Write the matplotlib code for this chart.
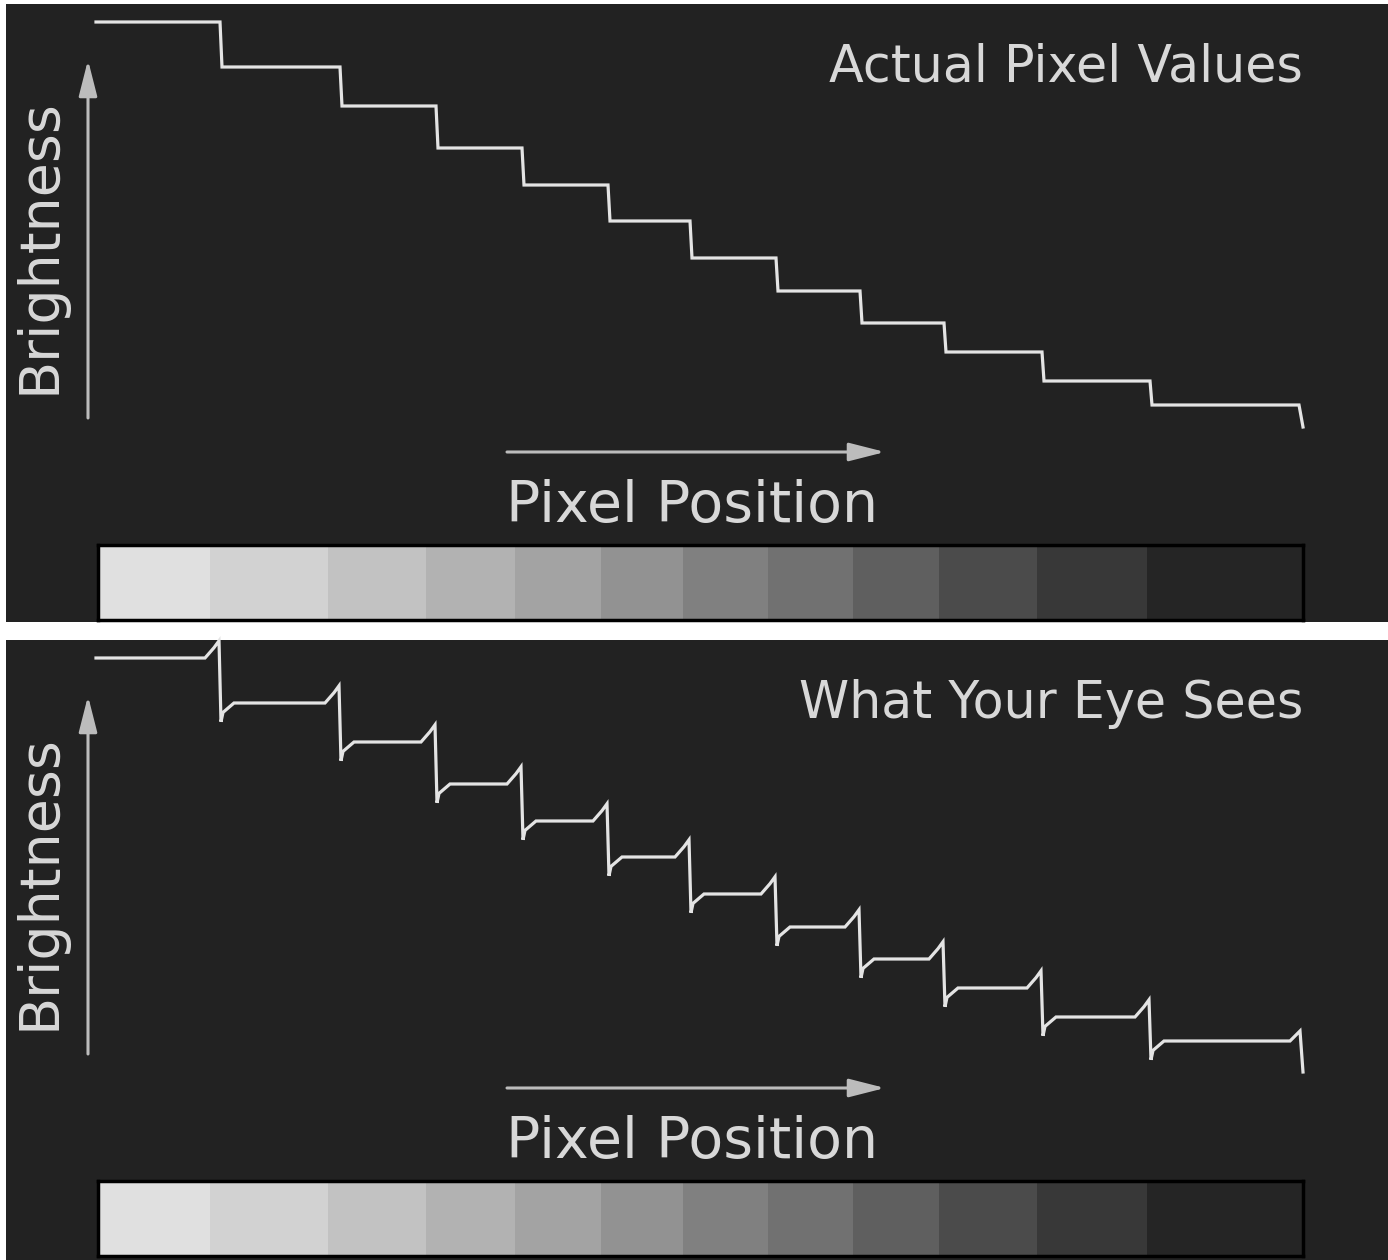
import matplotlib
matplotlib.use("Agg")
import matplotlib.pyplot as plt

W, H = 1388, 1260

# step edges along the pixel row (pixel position units) and brightness of each band
step_edges = [124, 244, 340, 426, 512, 594, 680, 764, 848, 946, 1054]
row_end = 1207
levels = [102, 90.75, 81, 70.5, 61.25, 52.25, 43, 34.75, 26.75, 19.5, 12.25, 6.25]
end_level = 0.75

# perceived (Mach band) overshoot / undershoot at each edge
mach_over = 4.3
mach_under = 4.7
mach_end_rise = 2.5
mach_end_level = -1.5

# gray swatches under each panel
band_edges = [0, 112, 230, 328, 417, 503, 585, 670, 755, 841, 939, 1049, 1205]
band_grays = [0xe0, 0xd2, 0xc2, 0xb2, 0xa3, 0x92, 0x80, 0x71, 0x5f, 0x4b, 0x38, 0x25]

titles = ["Actual Pixel Values", "What Your Eye Sees"]

BG = "#222222"
LINE = "#e4e4e4"
TXT = "#d8d8d8"
ARROW = "#bcbcbc"


def box(x0, y0, x1, y1):
    # pixel box (top-left origin) -> figure fraction rect
    return [x0 / W, 1 - y1 / H, (x1 - x0) / W, (y1 - y0) / H]


def actual_path():
    xs, ys = [0], [levels[0]]
    for i, e in enumerate(step_edges):
        xs += [e, e + 2]
        ys += [levels[i], levels[i + 1]]
    xs += [row_end - 4, row_end]
    ys += [levels[-1], end_level]
    return xs, ys


def perceived_path():
    xs, ys = [0], [levels[0]]
    for i, e in enumerate(step_edges):
        xs += [e - 15, e - 6, e - 1, e + 1, e + 3, e + 14]
        ys += [levels[i], levels[i] + mach_over * 0.6, levels[i] + mach_over,
               levels[i + 1] - mach_under, levels[i + 1] - mach_under * 0.5, levels[i + 1]]
    xs += [row_end - 13, row_end - 3, row_end]
    ys += [levels[-1], levels[-1] + mach_end_rise, mach_end_level]
    return xs, ys


fig = plt.figure(figsize=(W / 100, H / 100), dpi=100, facecolor="white")

panels = [(4, 622), (640, 1260)]
for k, (top, bot) in enumerate(panels):
    oy = 0 if k == 0 else 636

    bg = fig.add_axes(box(6, top, W, bot))
    bg.set_facecolor(BG)
    bg.set_xticks([])
    bg.set_yticks([])
    for s in bg.spines.values():
        s.set_visible(False)

    # staircase
    cv = fig.add_axes(box(96, 30 + oy, 1303, 430 + oy))
    cv.patch.set_visible(False)
    cv.set_axis_off()
    cv.set_xlim(0, row_end)
    cv.set_ylim(0, 100)
    xs, ys = actual_path() if k == 0 else perceived_path()
    ln, = cv.plot(xs, ys, color=LINE, lw=2.3, solid_joinstyle="miter", clip_on=False)
    ln.set_clip_path(bg.patch)

    # gray strip
    st = fig.add_axes(box(98, 545 + oy, 1303, 620 + oy))
    for i, g in enumerate(band_grays):
        c = "#%02x%02x%02x" % (g, g, g)
        st.axvspan(band_edges[i], band_edges[i + 1], color=c, lw=0)
    st.set_xlim(band_edges[0], band_edges[-1])
    st.set_ylim(0, 1)
    st.set_xticks([])
    st.set_yticks([])
    for s in st.spines.values():
        s.set_color("black")
        s.set_linewidth(2.5)

    # axis arrows
    arrow = dict(arrowstyle="-|>,head_length=1.1,head_width=0.28", color=ARROW,
                 lw=2.2, shrinkA=0, shrinkB=0, mutation_scale=20)
    bg.annotate("", xy=(88, H - (60 + oy)), xytext=(88, H - (418 + oy)),
                xycoords="figure pixels", textcoords="figure pixels", arrowprops=arrow)
    bg.annotate("", xy=(885, H - (452 + oy)), xytext=(507, H - (452 + oy)),
                xycoords="figure pixels", textcoords="figure pixels", arrowprops=arrow)

    fig.text(40 / W, 1 - (246 + oy) / H, "Brightness", rotation=90, color=TXT,
             fontsize=40, ha="center", va="center")
    fig.text(506 / W, 1 - (522 + oy) / H, "Pixel Position", color=TXT,
             fontsize=41, ha="left", va="baseline")
    fig.text(1303 / W, 1 - (82 + oy) / H, titles[k], color=TXT,
             fontsize=36.5, ha="right", va="baseline")

fig.savefig("out.png", dpi=100, facecolor="white")
